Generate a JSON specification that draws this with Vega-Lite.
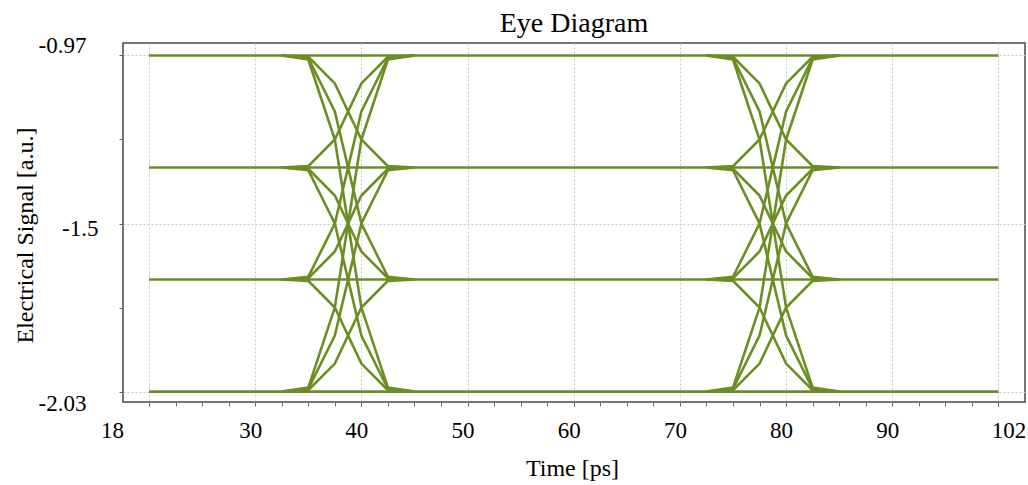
{
 "$schema": "https://vega.github.io/schema/vega-lite/v6.json",
 "width": 902, "height": 359,
 "autosize": {"type": "none"},
 "padding": {"left": 123, "top": 43, "right": 3, "bottom": 83},
 "background": "white",
 "config": {"view": {"stroke": "#4a4a4a", "strokeWidth": 1.5}, "font": "Liberation Serif"},
 "title": {"text": "Eye Diagram", "fontSize": 28, "fontWeight": "normal", "font": "Liberation Serif", "color": "black", "anchor": "middle", "offset": -4},
 "data": {"values": [
  {"s":"F0","t":20,"v":-1},{"s":"F0","t":100,"v":-1},
  {"s":"F1","t":20,"v":-1.3333},{"s":"F1","t":100,"v":-1.3333},
  {"s":"F2","t":20,"v":-1.6667},{"s":"F2","t":100,"v":-1.6667},
  {"s":"F3","t":20,"v":-2},{"s":"F3","t":100,"v":-2},
  {"s":"A01","t":32.5,"v":-1},{"s":"A01","t":35,"v":-1.004},{"s":"A01","t":37.5,"v":-1.0833},{"s":"A01","t":40,"v":-1.25},{"s":"A01","t":42.5,"v":-1.3293},{"s":"A01","t":45,"v":-1.3333},
  {"s":"A02","t":32.5,"v":-1},{"s":"A02","t":35,"v":-1.008},{"s":"A02","t":37.5,"v":-1.1667},{"s":"A02","t":40,"v":-1.5},{"s":"A02","t":42.5,"v":-1.6587},{"s":"A02","t":45,"v":-1.6667},
  {"s":"A03","t":32.5,"v":-1},{"s":"A03","t":35,"v":-1.012},{"s":"A03","t":37.5,"v":-1.25},{"s":"A03","t":40,"v":-1.75},{"s":"A03","t":42.5,"v":-1.988},{"s":"A03","t":45,"v":-2},
  {"s":"A10","t":32.5,"v":-1.3333},{"s":"A10","t":35,"v":-1.3293},{"s":"A10","t":37.5,"v":-1.25},{"s":"A10","t":40,"v":-1.0833},{"s":"A10","t":42.5,"v":-1.004},{"s":"A10","t":45,"v":-1},
  {"s":"A12","t":32.5,"v":-1.3333},{"s":"A12","t":35,"v":-1.3373},{"s":"A12","t":37.5,"v":-1.4167},{"s":"A12","t":40,"v":-1.5833},{"s":"A12","t":42.5,"v":-1.6627},{"s":"A12","t":45,"v":-1.6667},
  {"s":"A13","t":32.5,"v":-1.3333},{"s":"A13","t":35,"v":-1.3413},{"s":"A13","t":37.5,"v":-1.5},{"s":"A13","t":40,"v":-1.8333},{"s":"A13","t":42.5,"v":-1.992},{"s":"A13","t":45,"v":-2},
  {"s":"A20","t":32.5,"v":-1.6667},{"s":"A20","t":35,"v":-1.6587},{"s":"A20","t":37.5,"v":-1.5},{"s":"A20","t":40,"v":-1.1667},{"s":"A20","t":42.5,"v":-1.008},{"s":"A20","t":45,"v":-1},
  {"s":"A21","t":32.5,"v":-1.6667},{"s":"A21","t":35,"v":-1.6627},{"s":"A21","t":37.5,"v":-1.5833},{"s":"A21","t":40,"v":-1.4167},{"s":"A21","t":42.5,"v":-1.3373},{"s":"A21","t":45,"v":-1.3333},
  {"s":"A23","t":32.5,"v":-1.6667},{"s":"A23","t":35,"v":-1.6707},{"s":"A23","t":37.5,"v":-1.75},{"s":"A23","t":40,"v":-1.9167},{"s":"A23","t":42.5,"v":-1.996},{"s":"A23","t":45,"v":-2},
  {"s":"A30","t":32.5,"v":-2},{"s":"A30","t":35,"v":-1.988},{"s":"A30","t":37.5,"v":-1.75},{"s":"A30","t":40,"v":-1.25},{"s":"A30","t":42.5,"v":-1.012},{"s":"A30","t":45,"v":-1},
  {"s":"A31","t":32.5,"v":-2},{"s":"A31","t":35,"v":-1.992},{"s":"A31","t":37.5,"v":-1.8333},{"s":"A31","t":40,"v":-1.5},{"s":"A31","t":42.5,"v":-1.3413},{"s":"A31","t":45,"v":-1.3333},
  {"s":"A32","t":32.5,"v":-2},{"s":"A32","t":35,"v":-1.996},{"s":"A32","t":37.5,"v":-1.9167},{"s":"A32","t":40,"v":-1.75},{"s":"A32","t":42.5,"v":-1.6707},{"s":"A32","t":45,"v":-1.6667},
  {"s":"B01","t":72.5,"v":-1},{"s":"B01","t":75,"v":-1.004},{"s":"B01","t":77.5,"v":-1.0833},{"s":"B01","t":80,"v":-1.25},{"s":"B01","t":82.5,"v":-1.3293},{"s":"B01","t":85,"v":-1.3333},
  {"s":"B02","t":72.5,"v":-1},{"s":"B02","t":75,"v":-1.008},{"s":"B02","t":77.5,"v":-1.1667},{"s":"B02","t":80,"v":-1.5},{"s":"B02","t":82.5,"v":-1.6587},{"s":"B02","t":85,"v":-1.6667},
  {"s":"B03","t":72.5,"v":-1},{"s":"B03","t":75,"v":-1.012},{"s":"B03","t":77.5,"v":-1.25},{"s":"B03","t":80,"v":-1.75},{"s":"B03","t":82.5,"v":-1.988},{"s":"B03","t":85,"v":-2},
  {"s":"B10","t":72.5,"v":-1.3333},{"s":"B10","t":75,"v":-1.3293},{"s":"B10","t":77.5,"v":-1.25},{"s":"B10","t":80,"v":-1.0833},{"s":"B10","t":82.5,"v":-1.004},{"s":"B10","t":85,"v":-1},
  {"s":"B12","t":72.5,"v":-1.3333},{"s":"B12","t":75,"v":-1.3373},{"s":"B12","t":77.5,"v":-1.4167},{"s":"B12","t":80,"v":-1.5833},{"s":"B12","t":82.5,"v":-1.6627},{"s":"B12","t":85,"v":-1.6667},
  {"s":"B13","t":72.5,"v":-1.3333},{"s":"B13","t":75,"v":-1.3413},{"s":"B13","t":77.5,"v":-1.5},{"s":"B13","t":80,"v":-1.8333},{"s":"B13","t":82.5,"v":-1.992},{"s":"B13","t":85,"v":-2},
  {"s":"B20","t":72.5,"v":-1.6667},{"s":"B20","t":75,"v":-1.6587},{"s":"B20","t":77.5,"v":-1.5},{"s":"B20","t":80,"v":-1.1667},{"s":"B20","t":82.5,"v":-1.008},{"s":"B20","t":85,"v":-1},
  {"s":"B21","t":72.5,"v":-1.6667},{"s":"B21","t":75,"v":-1.6627},{"s":"B21","t":77.5,"v":-1.5833},{"s":"B21","t":80,"v":-1.4167},{"s":"B21","t":82.5,"v":-1.3373},{"s":"B21","t":85,"v":-1.3333},
  {"s":"B23","t":72.5,"v":-1.6667},{"s":"B23","t":75,"v":-1.6707},{"s":"B23","t":77.5,"v":-1.75},{"s":"B23","t":80,"v":-1.9167},{"s":"B23","t":82.5,"v":-1.996},{"s":"B23","t":85,"v":-2},
  {"s":"B30","t":72.5,"v":-2},{"s":"B30","t":75,"v":-1.988},{"s":"B30","t":77.5,"v":-1.75},{"s":"B30","t":80,"v":-1.25},{"s":"B30","t":82.5,"v":-1.012},{"s":"B30","t":85,"v":-1},
  {"s":"B31","t":72.5,"v":-2},{"s":"B31","t":75,"v":-1.992},{"s":"B31","t":77.5,"v":-1.8333},{"s":"B31","t":80,"v":-1.5},{"s":"B31","t":82.5,"v":-1.3413},{"s":"B31","t":85,"v":-1.3333},
  {"s":"B32","t":72.5,"v":-2},{"s":"B32","t":75,"v":-1.996},{"s":"B32","t":77.5,"v":-1.9167},{"s":"B32","t":80,"v":-1.75},{"s":"B32","t":82.5,"v":-1.6707},{"s":"B32","t":85,"v":-1.6667}
 ]},
 "mark": {"type": "line", "color": "#6b8e23", "strokeWidth": 2.6},
 "encoding": {
  "x": {"field": "t", "type": "quantitative",
   "scale": {"domain": [17.55, 102.5], "nice": false, "zero": false},
   "axis": {
    "values": [20,22.5,25,27.5,30,32.5,35,37.5,40,42.5,45,47.5,50,52.5,55,57.5,60,62.5,65,67.5,70,72.5,75,77.5,80,82.5,85,87.5,90,92.5,95,97.5,100],
    "labelExpr": "datum.value == 20 ? '18' : (datum.value == 100 ? '102' : (datum.value % 10 == 0 ? format(datum.value, 'd') : ''))",
    "labelOffset": {"condition": [{"test": "datum.value == 20", "value": -37}, {"test": "datum.value == 100", "value": 10}], "value": -5},
    "gridOpacity": {"condition": {"test": "datum.value % 10 == 0", "value": 1}, "value": 0},
    "domain": false, "grid": true, "gridDash": [2, 2], "gridColor": "#c8c8c8", "gridWidth": 1,
    "ticks": true, "tickSize": 4, "tickColor": "#666666", "tickWidth": 1,
    "labelFont": "Liberation Serif", "labelFontSize": 23, "labelColor": "black", "labelPadding": 13,
    "labelFlush": false, "labelOverlap": false,
    "title": "Time [ps]", "titleFont": "Liberation Serif", "titleFontSize": 24, "titleFontWeight": "normal", "titleColor": "black",
    "titleX": 449, "titleY": 66, "titleBaseline": "middle", "titleAlign": "center"
   }},
  "y": {"field": "v", "type": "quantitative",
   "scale": {"domain": [-2.031, -0.963], "nice": false, "zero": false},
   "axis": {
    "values": [-1, -1.25, -1.5, -1.75, -2],
    "labelExpr": "datum.value == -1 ? '-0.97' : (datum.value == -2 ? '-2.03' : (datum.value == -1.5 ? '-1.5' : ''))",
    "labelOffset": {"condition": [{"test": "datum.value == -1", "value": -10}, {"test": "datum.value == -2", "value": 12}], "value": 5},
    "labelPadding": {"condition": {"test": "datum.value == -1.5", "value": 21}, "value": 33},
    "gridOpacity": {"condition": {"test": "datum.value == -1.25 || datum.value == -1.75", "value": 0}, "value": 1},
    "domain": false, "grid": true, "gridDash": [2, 2], "gridColor": "#c8c8c8", "gridWidth": 1,
    "ticks": true, "tickSize": 4, "tickColor": "#666666", "tickWidth": 1,
    "labelFont": "Liberation Serif", "labelFontSize": 23, "labelColor": "black", "labelOverlap": false, "labelFlush": false,
    "title": "Electrical Signal [a.u.]", "titleFont": "Liberation Serif", "titleFontSize": 24, "titleFontWeight": "normal", "titleColor": "black",
    "titleX": -98, "titleY": 192, "titleAngle": -90, "titleBaseline": "middle", "titleAlign": "center"
   }},
  "detail": {"field": "s"}
 }
}
